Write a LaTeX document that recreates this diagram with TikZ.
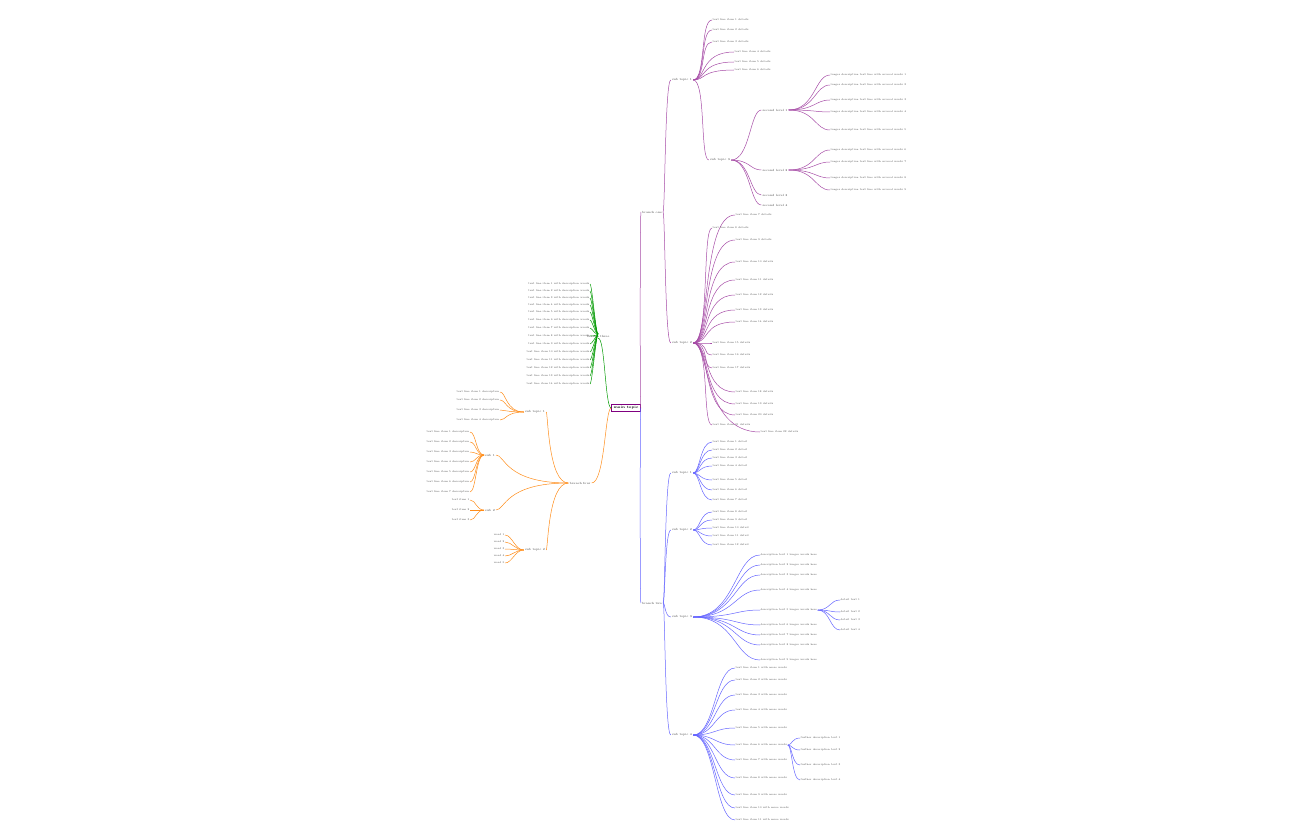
\documentclass[tikz,border=0pt]{standalone}
\begin{document}
\begin{tikzpicture}[x=1pt,y=-1pt,
 lf/.style={font=\fontsize{2.6}{3}\selectfont,text=black!70,inner sep=0.5pt,anchor=west,align=left},
 lr/.style={lf,anchor=east,align=right},
 mid/.style={font=\fontsize{3}{3.5}\selectfont,text=black!75,inner sep=1pt},
 pu/.style={draw=violet!70,line width=0.5pt},
 bl/.style={draw=blue!60,line width=0.5pt},
 gr/.style={draw=green!60!black,line width=0.5pt},
 og/.style={draw=orange!90,line width=0.5pt}]
\useasboundingbox (0,0) rectangle (1296,840);
\node[draw=violet,line width=0.8pt,fill=white,font=\fontsize{3.5}{4}\selectfont\bfseries,inner sep=2pt] (root) at (626,408) {main topic};
\node[mid] (p1) at (652,212) {branch one};
\node[mid] (b1) at (652,603) {branch two};
\node[mid] (g1) at (598,336) {branch three};
\node[mid] (o1) at (580,483) {branch four};
\draw[pu] (root.east) .. controls (640,408) and (640,212) .. (p1.west);
\draw[bl] (root.east) .. controls (640,408) and (640,603) .. (b1.west);
\draw[gr] (root.west) .. controls (605,408) and (605,336) .. (g1.south);
\draw[og] (root.west) .. controls (605,408) and (605,483) .. (o1.east);
% purple second level
\foreach \i/\y in {1/80,2/343} {\node[mid] (pp\i) at (682,\y) {sub topic \i};
 \draw[pu] (p1.east) .. controls (665,212) and (665,\y) .. (pp\i.west);}
\node[mid] (pp3) at (720,160) {sub topic 3};
\draw[pu] (pp1.east) .. controls (706,80) and (700,160) .. (pp3.west);
\foreach \i/\y in {1/473,2/530,3/617,4/735} {\node[mid] (bb\i) at (682,\y) {sub topic \i};
 \draw[bl] (b1.east) .. controls (665,603) and (665,\y) .. (bb\i.west);}
% purple leaves
\foreach \i/\y/\x in {1/20/712,2/30/712,3/42/712,4/52/734,5/62/734,6/70/734} {
 \node[lf] (pl\i) at (\x,\y) {text line item \i\ details};
 \draw[pu] (pp1.east) .. controls (706,80) and (700,\y) .. (pl\i.west);}
\foreach \i/\y/\x in {7/215/735,8/228/712,9/240/735,10/262/735,11/280/735,12/295/735,13/310/735,14/322/735,15/343/712,16/355/712,17/368/712,18/392/735,19/404/735,20/415/735,21/425/712,22/432/760} {
 \node[lf] (pl\i) at (\x,\y) {text line item \i\ details};
 \draw[pu] (pp2.east) .. controls (710,343) and (702,\y) .. (pl\i.west);}
\foreach \i/\y in {1/110,2/170,3/195,4/205} {\node[mid] (pm\i) at (775,\y) {second level \i};
 \draw[pu] (pp3.east) .. controls (750,160) and (750,\y) .. (pm\i.west);}
\foreach \i/\y in {1/75,2/85,3/100,4/112,5/130} {\node[lf] (pn\i) at (830,\y) {longer description text line with several words \i};
 \draw[pu] (pm1.east) .. controls (815,110) and (815,\y) .. (pn\i.west);}
\foreach \i/\y in {6/150,7/162,8/178,9/190} {\node[lf] (pn\i) at (830,\y) {longer description text line with several words \i};
 \draw[pu] (pm2.east) .. controls (815,170) and (815,\y) .. (pn\i.west);}
% blue leaves
\foreach \i/\y in {1/442,2/450,3/458,4/466,5/480,6/490,7/500} {\node[lf] (bl\i) at (712,\y) {text line item \i\ detail};
 \draw[bl] (bb1.east) .. controls (700,473) and (700,\y) .. (bl\i.west);}
\foreach \i/\y in {8/512,9/520,10/528,11/536,12/545} {\node[lf] (bl\i) at (712,\y) {text line item \i\ detail};
 \draw[bl] (bb2.east) .. controls (700,530) and (700,\y) .. (bl\i.west);}
\foreach \i/\y in {1/555,2/565,3/575,4/590,5/610,6/625,7/635,8/645,9/660} {\node[lf] (bm\i) at (760,\y) {description text \i\ longer words here};
 \draw[bl] (bb3.east) .. controls (735,617) and (735,\y) .. (bm\i.west);}
\foreach \i/\y in {1/600,2/612,3/620,4/630} {\node[lf] (bq\i) at (840,\y) {detail text \i};
 \draw[bl] (bm5.east) .. controls (830,610) and (830,\y) .. (bq\i.west);}
\foreach \i/\y in {1/668,2/680,3/695,4/710,5/728,6/745,7/760,8/778,9/795,10/808,11/820} {\node[lf] (bn\i) at (735,\y) {text line item \i\ with more words};
 \draw[bl] (bb4.east) .. controls (715,735) and (715,\y) .. (bn\i.west);}
\foreach \i/\y in {1/738,2/750,3/765,4/780} {\node[lf] (bo\i) at (800,\y) {further description text \i};
 \draw[bl] (bn6.east) .. controls (792,745) and (792,\y) .. (bo\i.west);}
% green leaves
\foreach \i/\y in {1/284,2/291,3/298,4/305,5/312,6/320,7/328,8/336,9/344,10/352,11/360,12/368,13/376,14/384} {\node[lr] (gl\i) at (590,\y) {text line item \i\ with description words};
 \draw[gr] (g1.north) .. controls (596,336) and (592,\y) .. (gl\i.east);}
% orange
\foreach \i/\y in {1/412,2/550} {\node[mid] (oo\i) at (535,\y) {sub topic \i};
 \draw[og] (o1.west) .. controls (548,483) and (548,\y) .. (oo\i.east);}
\foreach \i/\y in {1/455,2/510} {\node[mid] (op\i) at (490,\y) {sub \i};
 \draw[og] (o1.west) .. controls (505,483) and (505,\y) .. (op\i.east);}
\foreach \i/\y in {1/392,2/400,3/410,4/420} {\node[lr] (ol\i) at (500,\y) {text line item \i\ description};
 \draw[og] (oo1.west) .. controls (506,412) and (506,\y) .. (ol\i.east);}
\foreach \i/\y in {1/432,2/442,3/452,4/462,5/472,6/482,7/492} {\node[lr] (om\i) at (470,\y) {text line item \i\ description};
 \draw[og] (op1.west) .. controls (476,455) and (476,\y) .. (om\i.east);}
\foreach \i/\y in {1/500,2/510,3/520} {\node[lr] (on\i) at (470,\y) {text item \i};
 \draw[og] (op2.west) .. controls (476,510) and (476,\y) .. (on\i.east);}
\foreach \i/\y in {1/535,2/542,3/549,4/556,5/563} {\node[lr] (oq\i) at (505,\y) {word \i};
 \draw[og] (oo2.west) .. controls (515,550) and (512,\y) .. (oq\i.east);}
\end{tikzpicture}
\end{document}
